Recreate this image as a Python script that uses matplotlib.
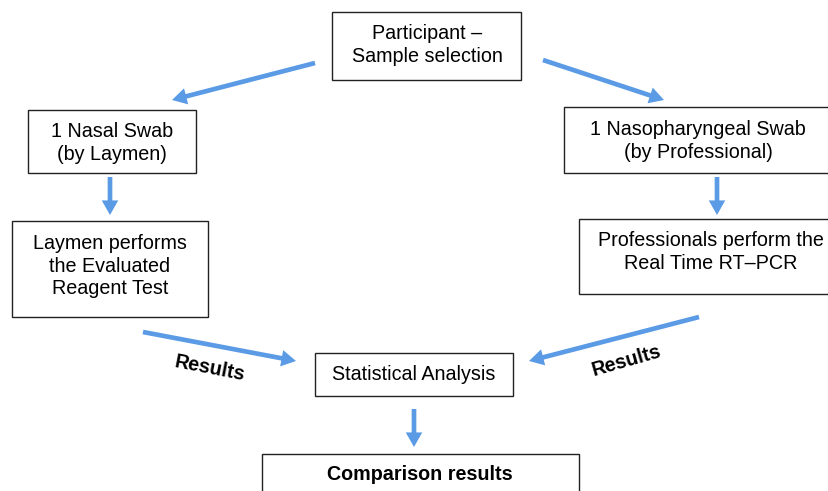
import matplotlib

matplotlib.use("Agg")
import matplotlib.pyplot as plt
from matplotlib.patches import FancyArrowPatch, Rectangle

plt.rcParams["font.family"] = ["Liberation Sans", "DejaVu Sans"]

# boxes: (left, top, right, bottom) in pixel coordinates
box_edges = [
    (332, 12, 521, 80),
    (28, 110, 196, 173),
    (564, 107, 835, 173),
    (12, 221, 208, 317),
    (579, 219, 835, 294),
    (315, 353, 513, 396),
    (262, 454, 579, 500),
]
box_labels = [
    "Participant \u2013\nSample selection",
    "1 Nasal Swab\n(by Laymen)",
    "1 Nasopharyngeal Swab\n(by Professional)",
    "Laymen performs\nthe Evaluated\nReagent Test",
    "Professionals perform the\nReal Time RT\u2013PCR",
    "Statistical Analysis",
    "Comparison results",
]
box_text_pos = [
    (427, 45), (112, 143), (698, 141), (110, 266), (711, 252), (414, 375), (420, 475),
]
box_bold = [False, False, False, False, False, False, True]

# arrows: start -> end
arrow_starts = [(315, 63), (543, 60), (110, 177), (717, 177), (143, 332), (699, 317), (414, 409)]
arrow_ends = [(172, 100), (664, 100), (110, 215), (717, 215), (296, 361), (529, 361), (414, 447)]

result_labels = ["Results", "Results"]
result_pos = [(210, 368), (626, 361)]
result_rot = [-11, 16]

BLUE = "#5b9be6"

fig = plt.figure(figsize=(8.29, 4.91), dpi=100)
ax = fig.add_axes([0, 0, 1, 1])
ax.set_xlim(0, 829)
ax.set_ylim(491, 0)
ax.axis("off")

for (x0, y0, x1, y1), label, (tx, ty), bold in zip(box_edges, box_labels, box_text_pos, box_bold):
    ax.add_patch(Rectangle((x0, y0), x1 - x0, y1 - y0, facecolor="white",
                           edgecolor="#222222", linewidth=1.0))
    ax.text(tx, ty, label, ha="center", va="center", fontsize=14.25,
            fontweight="bold" if bold else "normal", linespacing=1.21, color="black")

for start, end in zip(arrow_starts, arrow_ends):
    ax.add_patch(FancyArrowPatch(start, end,
                                 arrowstyle="simple,tail_width=0.24,head_width=0.85,head_length=0.75",
                                 mutation_scale=14, color=BLUE, linewidth=0,
                                 shrinkA=0, shrinkB=0))

for label, (tx, ty), rot in zip(result_labels, result_pos, result_rot):
    ax.text(tx, ty, label, ha="center", va="center", fontsize=14.25,
            fontweight="bold", rotation=rot, rotation_mode="anchor")

fig.savefig("out.png", dpi=100)
